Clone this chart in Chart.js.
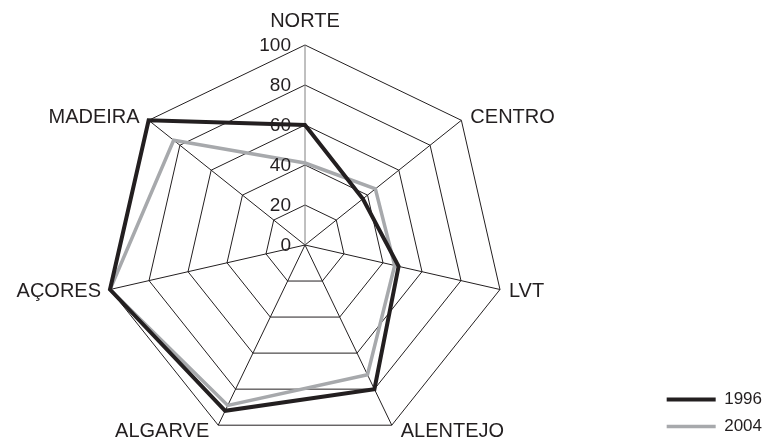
<!DOCTYPE html>
<html>
<head>
<meta charset="utf-8">
<script src="https://cdn.jsdelivr.net/npm/chart.js@4/dist/chart.umd.min.js"></script>
<style>
  html, body { margin: 0; padding: 0; background: #fff; width: 772px; height: 441px; overflow: hidden; }
  #wrap { position: absolute; left: -46px; top: 0; width: 818px; height: 447px; }
</style>
</head>
<body>
<div id="wrap"><canvas id="grafico"></canvas></div>
<script>
var regioes = ['NORTE', 'CENTRO', 'LVT', 'ALENTEJO', 'ALGARVE', 'AÇORES', 'MADEIRA'];
var valores1996 = [60, 37, 48, 80, 92, 100, 100];
var valores2004 = [41, 45, 46, 72, 89, 100, 84];
var ticksEixo = [0, 20, 40, 60, 80, 100];

var preto = '#231f20';
var cinza = '#a7a9ac';
var fonte = 'Arial, "Liberation Sans", sans-serif';

// valores do eixo a esquerda da linha vertical e nomes das regioes junto aos vertices
var etiquetas = {
    id: 'etiquetas',
    afterDraw: function(chart) {
        var scale = chart.scales.r;
        var ctx = chart.ctx;
        ctx.save();
        ctx.fillStyle = preto;
        ctx.textBaseline = 'middle';

        ctx.font = '19px ' + fonte;
        ctx.textAlign = 'right';
        ticksEixo.forEach(function(v) {
            var d = scale.getDistanceFromCenterForValue(v);
            ctx.fillText(String(v), scale.xCenter - 14, scale.yCenter - d + 1);
        });

        ctx.font = '20px ' + fonte;
        chart.data.labels.forEach(function(nome, i) {
            var p = scale.getPointPosition(i, scale.drawingArea);
            var dx = p.x - scale.xCenter;
            var dy = p.y - scale.yCenter;
            var r = scale.drawingArea;
            if (Math.abs(dx) < 1) {
                ctx.textAlign = 'center';
                ctx.fillText(nome, p.x, p.y - 24);
            } else {
                ctx.textAlign = dx > 0 ? 'left' : 'right';
                ctx.fillText(nome, p.x + (dx > 0 ? 9 : -9), p.y + dy / r * 6 + 1);
            }
        });
        ctx.restore();
    }
};

var canvas = document.getElementById('grafico');
var chart = new Chart(canvas, {
    type: 'radar',
    data: {
        labels: regioes,
        datasets: [
            {
                label: '1996',
                data: valores1996,
                borderColor: preto,
                backgroundColor: preto,
                borderWidth: 4,
                fill: false,
                pointRadius: 0,
                tension: 0
            },
            {
                label: '2004',
                data: valores2004,
                borderColor: cinza,
                backgroundColor: cinza,
                borderWidth: 3.5,
                fill: false,
                pointStyle: 'dash',
                pointRadius: 0,
                tension: 0
            }
        ]
    },
    options: {
        responsive: true,
        maintainAspectRatio: false,
        animation: false,
        layout: { padding: { top: 45, bottom: 2 } },
        elements: { line: { borderJoinStyle: 'miter' } },
        plugins: {
            tooltip: { enabled: false },
            legend: {
                position: 'right',
                align: 'end',
                maxHeight: 368,
                labels: {
                    usePointStyle: true,
                    pointStyle: 'line',
                    pointStyleWidth: 49,
                    color: preto,
                    padding: 10,
                    font: { family: fonte, size: 17 }
                }
            }
        },
        scales: {
            r: {
                min: 0,
                max: 100,
                ticks: { stepSize: 20, display: false },
                grid: { color: preto, lineWidth: 1 },
                angleLines: {
                    color: function(ctx) { return ctx.index === 0 ? '#808080' : preto; },
                    lineWidth: 1
                },
                pointLabels: { display: false }
            }
        }
    },
    plugins: [etiquetas]
});
</script>
</body>
</html>
